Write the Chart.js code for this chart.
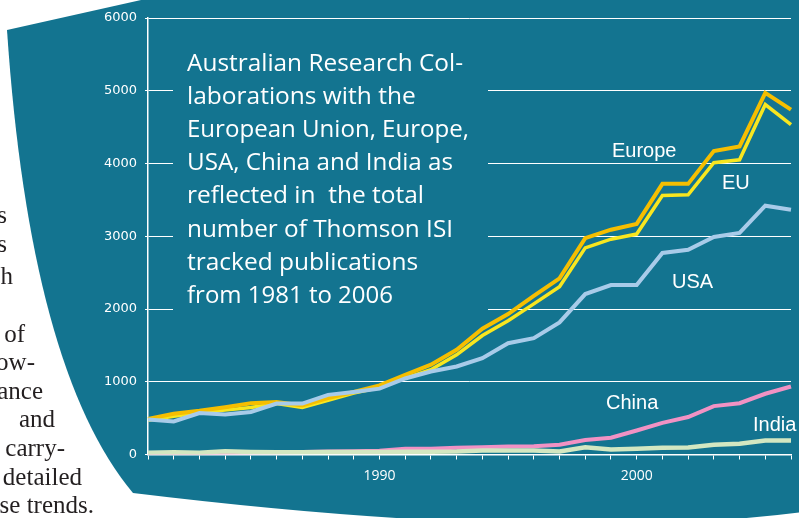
<!DOCTYPE html>
<html>
<head>
<meta charset="utf-8">
<script src="https://cdn.jsdelivr.net/npm/chart.js@4.4.1/dist/chart.umd.min.js"></script>
<style>
  html, body { margin: 0; padding: 0; background: #fff; }
  #wrap { width: 799px; height: 518px; }
</style>
</head>
<body>
<div id="wrap"><canvas id="collabChart"></canvas></div>
<script>
const years = [1981, 1982, 1983, 1984, 1985, 1986, 1987, 1988, 1989, 1990,
  1991, 1992, 1993, 1994, 1995, 1996, 1997, 1998, 1999, 2000,
  2001, 2002, 2003, 2004, 2005, 2006];
const europe = [490, 560, 600, 650, 705, 720, 675, 775, 860, 950,
  1095, 1235, 1440, 1730, 1930, 2180, 2420, 2975, 3090, 3170,
  3720, 3720, 4170, 4235, 4970, 4740];
const eu = [470, 525, 575, 610, 645, 700, 645, 745, 845, 920,
  1050, 1165, 1370, 1635, 1840, 2070, 2305, 2840, 2960, 3030,
  3560, 3570, 4010, 4050, 4810, 4535];
const usa = [480, 455, 570, 550, 585, 700, 700, 820, 860, 905,
  1045, 1140, 1210, 1325, 1530, 1600, 1815, 2205, 2330, 2330,
  2770, 2815, 2990, 3045, 3420, 3365];
const china = [15, 18, 20, 25, 28, 30, 35, 40, 45, 50,
  80, 78, 92, 100, 110, 115, 135, 200, 230, 330,
  435, 515, 665, 705, 835, 935];
const india = [25, 30, 25, 45, 35, 30, 30, 35, 35, 35,
  37, 37, 40, 55, 55, 55, 42, 100, 70, 78,
  92, 96, 133, 147, 193, 193];
const xLabelYears = [1990, 2000];

const boxLines = [
  "Australian Research Col-",
  "laborations with the",
  "European Union, Europe,",
  "USA, China and India as",
  "reflected in  the total",
  "number of Thomson ISI",
  "tracked publications",
  "from 1981 to 2006",
];
const boxLineWidths = [276, 230, 282, 266, 237, 266, 234, 206];

// tail ends of the page's body text, visible left of the panel
const bodyFragments = [
  ["s", 7, 223], ["s", 7, 252], ["h", 13, 284],
  ["of", 25, 342], ["ow-", 35, 370], ["ance", 43, 399], ["and", 55, 427],
  ["carry-", 65, 456], ["detailed", 82, 485], ["se trends.", 94, 513],
];

const seriesNotes = [
  ["Europe", 612, 157], ["EU", 722, 189], ["USA", 672, 288],
  ["China", 606, 409], ["India", 753, 431],
];

const TEAL = "#137490";

const backdrop = {
  id: "backdrop",
  beforeDraw(chart) {
    const ctx = chart.ctx;
    ctx.save();
    ctx.fillStyle = "#fff";
    ctx.fillRect(0, 0, chart.width, chart.height);

    ctx.fillStyle = "#231f20";
    ctx.font = '25px "Liberation Serif"';
    ctx.textAlign = "right";
    ctx.textBaseline = "alphabetic";
    bodyFragments.forEach(([txt, x, y]) => ctx.fillText(txt, x, y));

    ctx.fillStyle = TEAL;
    ctx.beginPath();
    ctx.moveTo(7, 30);
    ctx.lineTo(150, -2);
    ctx.lineTo(810, -2);
    ctx.lineTo(810, 511);
    ctx.quadraticCurveTo(560, 545, 133, 493);
    ctx.quadraticCurveTo(30, 370, 7, 30);
    ctx.closePath();
    ctx.fill();
    ctx.restore();
  },
  beforeDatasetsDraw(chart) {
    const ctx = chart.ctx;
    ctx.save();
    ctx.fillStyle = TEAL;
    ctx.fillRect(173, 26, 315, 298);
    ctx.fillStyle = "#fff";
    ctx.font = '24.5px "Open Sans"';
    ctx.textAlign = "left";
    ctx.textBaseline = "alphabetic";
    boxLines.forEach((line, i) => {
      ctx.fillText(line, 187, 71 + i * 33.1, boxLineWidths[i]);
    });
    ctx.restore();
  },
  afterDatasetsDraw(chart) {
    const ctx = chart.ctx;
    ctx.save();
    ctx.fillStyle = "#fff";
    ctx.font = '20px "Liberation Sans"';
    ctx.textAlign = "left";
    ctx.textBaseline = "alphabetic";
    seriesNotes.forEach(([txt, x, y]) => ctx.fillText(txt, x, y));
    ctx.restore();
  },
};

const lineStyle = (label, data, color, width) => ({
  label,
  data,
  borderColor: color,
  backgroundColor: color,
  borderWidth: width,
  pointRadius: 0,
  tension: 0,
  fill: false,
  borderJoinStyle: "miter",
});

const data = {
  labels: years,
  datasets: [
    lineStyle("USA", usa, "#a8cbe9", 4),
    lineStyle("India", india, "#d3e7c1", 4.5),
    lineStyle("Europe", europe, "#f6be00", 4),
    lineStyle("EU", eu, "#f8e61f", 3.5),
    lineStyle("China", china, "#f192c4", 4),
  ],
};

const config = {
  type: "line",
  data: data,
  plugins: [backdrop],
  options: {
    responsive: true,
    maintainAspectRatio: false,
    animation: false,
    devicePixelRatio: 1,
    layout: { padding: { top: 18, right: 1, left: 0, bottom: 0 } },
    plugins: {
      legend: { display: false },
      title: { display: false },
      tooltip: { enabled: false },
    },
    scales: {
      x: {
        offset: false,
        afterFit: (scale) => { scale.height = 63.5; },
        grid: {
          drawOnChartArea: false,
          drawTicks: true,
          tickLength: 5,
          color: "#fff",
        },
        border: { display: true, color: "#fff", width: 1.5 },
        ticks: {
          autoSkip: false,
          maxRotation: 0,
          padding: 8,
          color: "#fff",
          font: { size: 14, family: "Open Sans" },
          callback: function (value) {
            const label = this.getLabelForValue(value);
            return xLabelYears.includes(Number(label)) ? String(label) : "";
          },
        },
      },
      y: {
        min: 0,
        max: 6000,
        afterFit: (scale) => { scale.width = 148; },
        grid: {
          color: "#fff",
          lineWidth: 1,
          drawTicks: true,
          tickLength: 3,
        },
        border: { display: true, color: "#fff", width: 1.5 },
        ticks: {
          stepSize: 1000,
          padding: 8,
          color: "#fff",
          font: { size: 13, family: "DejaVu Sans" },
          callback: (value) => String(value),
        },
      },
    },
  },
};

const collabChart = document.getElementById("collabChart");
new Chart(collabChart, config);
</script>
</body>
</html>
